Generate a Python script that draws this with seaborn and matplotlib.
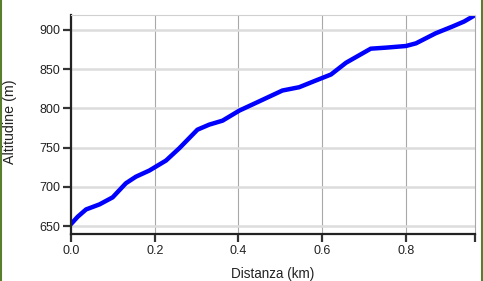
import matplotlib
matplotlib.use("Agg")
import matplotlib.pyplot as plt
import seaborn as sns
import pandas as pd
from matplotlib.lines import Line2D

distance_km = [0.0, 0.016, 0.036, 0.068, 0.0995, 0.131, 0.155, 0.187, 0.227, 0.259,
               0.302, 0.330, 0.362, 0.402, 0.450, 0.505, 0.545, 0.585, 0.621, 0.657,
               0.716, 0.752, 0.800, 0.824, 0.871, 0.911, 0.939, 0.965]
altitude_m = [652.6, 662, 671.3, 677.7, 686.7, 704.6, 713, 720.8, 733.6, 749.4,
              772.9, 779.3, 784.4, 797.2, 809.1, 822.8, 827, 835.6, 843.2, 858.2,
              876.1, 877.4, 879.5, 882.9, 895.7, 904.3, 910.7, 918.8]
x_ticks = [0.0, 0.2, 0.4, 0.6, 0.8]
y_ticks = [650, 700, 750, 800, 850, 900]

sns.set_theme(style="white")
plt.rcParams['font.family'] = ['Liberation Sans', 'DejaVu Sans']

df = pd.DataFrame({"d": distance_km, "a": altitude_m})

fig = plt.figure(figsize=(4.83, 2.81), dpi=100)
ax = fig.add_axes([71/483, 1-234/281, (475-71)/483, (234-15)/281])

ax.set_xlim(0, 0.965)
ax.set_ylim(640, 919)
ax.set_xticks(x_ticks)
ax.set_xticklabels([f"{v:.1f}" for v in x_ticks])
ax.set_yticks(y_ticks)
ax.set_xticks([0.965], minor=True)

ax.yaxis.grid(True, color="#dcdcdc", linewidth=1.8)
ax.xaxis.grid(True, color="#a8a8a8", linewidth=0.8)
ax.set_axisbelow(True)

sns.lineplot(data=df, x="d", y="a", ax=ax, color="#0000ff", linewidth=3.2,
             solid_capstyle="round", solid_joinstyle="round")

for s in ["top", "right"]:
    ax.spines[s].set_visible(True)
    ax.spines[s].set_linewidth(0.8)
ax.spines["top"].set_color("#d0d0d0")
ax.spines["right"].set_color("#a8a8a8")
for s in ["left", "bottom"]:
    ax.spines[s].set_color("#222222")
    ax.spines[s].set_linewidth(1.6)

ax.tick_params(axis="both", which="both", direction="out", length=6, width=1.6,
               color="#333333", labelsize=9, labelcolor="#222222", pad=2,
               left=True, bottom=True)

ax.set_xlabel("Distanza (km)", fontsize=9.75, color="#222222", labelpad=7)
ax.set_ylabel("Altitudine (m)", fontsize=10.25, color="#222222")
ax.yaxis.set_label_coords((17 - 71) / 404, 0.514)

fig.add_artist(Line2D([0.5/483, 0.5/483], [0, 1], color="#5a7d2e", linewidth=1.5,
                      transform=fig.transFigure))
fig.add_artist(Line2D([482/483, 482/483], [0, 1], color="#5a7d2e", linewidth=1.5,
                      transform=fig.transFigure))

fig.savefig("out.png", dpi=100)
